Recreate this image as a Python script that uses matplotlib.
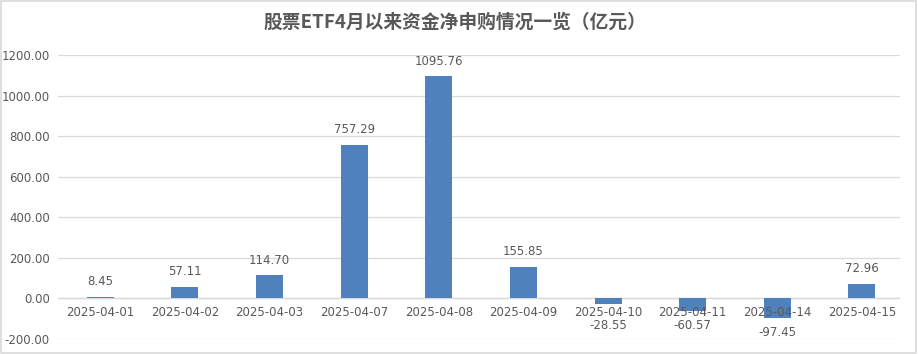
import matplotlib
matplotlib.use("Agg")
import matplotlib.pyplot as plt
from matplotlib.transforms import offset_copy
from matplotlib.patches import Rectangle

plt.rcParams['font.family'] = ['Noto Sans CJK SC', 'DejaVu Sans']

dates = ["2025-04-01", "2025-04-02", "2025-04-03", "2025-04-07", "2025-04-08",
         "2025-04-09", "2025-04-10", "2025-04-11", "2025-04-14", "2025-04-15"]
net_flow = [8.45, 57.11, 114.70, 757.29, 1095.76, 155.85, -28.55, -60.57, -97.45, 72.96]
yticks = [-200, 0, 200, 400, 600, 800, 1000, 1200]

C_BAR = "#4F81BD"; C_TXT = "#595959"; C_GRID = "#D9D9D9"

fig = plt.figure(figsize=(9.18, 3.54), dpi=100)
fig.patches.append(Rectangle((0.001, 0.002), 0.997, 0.995, transform=fig.transFigure,
                             fill=False, edgecolor=C_GRID, lw=1.2))
ax = fig.add_axes([58/918, 1-339/354, (900-58)/918, (339-55)/354])

x = list(range(len(dates)))
ax.bar(x, net_flow, width=0.32, color=C_BAR, zorder=2)
ax.set_xlim(-0.5, len(dates) - 0.55)
ax.set_ylim(-200, 1200)
ax.set_yticks(yticks)
ax.set_yticklabels([f"{v:.2f}" for v in yticks], color=C_TXT, fontsize=8.5,
                   family="DejaVu Sans")
ax.grid(axis="y", color=C_GRID, lw=0.9, zorder=0)
ax.axhline(0, color=C_GRID, lw=1.0, zorder=1)
ax.set_xticks([])
ax.tick_params(axis="y", length=0, pad=6)
for s in ax.spines.values():
    s.set_visible(False)

# category labels sit next to the zero line, like Excel
lab_tr = offset_copy(ax.transData, fig=fig, x=0, y=-14, units="dots")
for xi, d in zip(x, dates):
    ax.text(xi, 0, d, transform=lab_tr, ha="center", va="center",
            fontsize=8.5, color=C_TXT, family="DejaVu Sans", zorder=3)

# value labels; negative ones kept clear of the category labels
y0_px = ax.transData.transform((0, 0))[1]
for xi, v in zip(x, net_flow):
    if v >= 0:
        off = 15
    else:
        end_px = ax.transData.transform((0, v))[1]
        off = min(-14, (y0_px - 27) - end_px)
    ax.annotate(f"{v:.2f}", (xi, v), xytext=(0, off), textcoords="offset pixels",
                ha="center", va="center", fontsize=8.5, color=C_TXT,
                family="DejaVu Sans", zorder=3)

fig.text(0.496, 1-22/354, "股票ETF4月以来资金净申购情况一览（亿元）", ha="center",
         va="center", fontsize=13.5, fontweight="bold", color=C_TXT)

fig.savefig("out.png", dpi=100)
